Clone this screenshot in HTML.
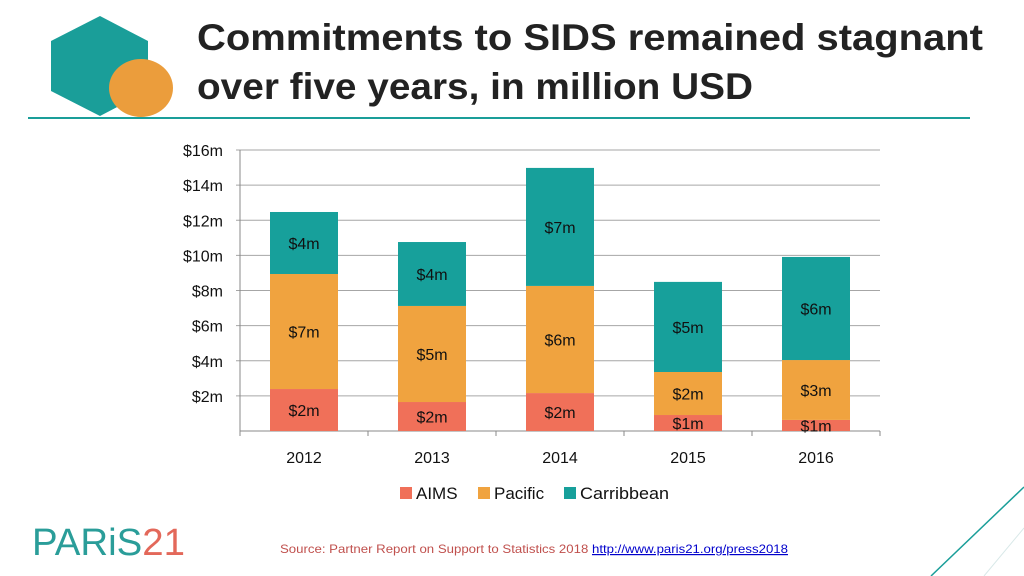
<!DOCTYPE html>
<html><head><meta charset="utf-8"><style>
body{margin:0;width:1024px;height:576px;background:#fff;overflow:hidden;font-family:"Liberation Sans",sans-serif;position:relative}
</style></head><body>
<svg width="1024" height="576" style="position:absolute;left:0;top:0">
<polygon points="100,16 148,41 148,91 100,116 51,91 51,41" fill="#1a9e99"/>
<ellipse cx="141" cy="88" rx="32" ry="29" fill="#eb9d3c"/>
<text x="197" y="50" font-size="37" font-weight="bold" fill="#222" textLength="786" lengthAdjust="spacingAndGlyphs">Commitments to SIDS remained stagnant</text>
<text x="197" y="99" font-size="37" font-weight="bold" fill="#222" textLength="556" lengthAdjust="spacingAndGlyphs">over five years, in million USD</text>
<line x1="28" y1="118" x2="970" y2="118" stroke="#1a9e99" stroke-width="2"/>
<g id="chart"></g>
<g font-size="17" fill="#111">
<rect x="400" y="487" width="12" height="12" fill="#f07059"/><text x="416" y="499">AIMS</text>
<rect x="478" y="487" width="12" height="12" fill="#f0a33f"/><text x="494" y="499">Pacific</text>
<rect x="564" y="487" width="12" height="12" fill="#17a09b"/><text x="580" y="499" textLength="89" lengthAdjust="spacingAndGlyphs">Carribbean</text>
</g>
<text x="32" y="555" font-size="38" fill="#2a9d99" textLength="153" lengthAdjust="spacingAndGlyphs">PARiS<tspan fill="#e3685a">21</tspan></text>
<text x="280" y="553" font-size="12" fill="#c0504d" textLength="508" lengthAdjust="spacingAndGlyphs">Source: Partner Report on Support to Statistics 2018 <tspan fill="#00c" text-decoration="underline">http://www.paris21.org/press2018</tspan></text>
<line x1="1024" y1="487" x2="931" y2="576" stroke="#1a9e99" stroke-width="1.5"/>
<line x1="1024" y1="528" x2="984" y2="576" stroke="#d8e8e8" stroke-width="1"/>
</svg>
<script>
const categories=["2012","2013","2014","2015","2016"];
const aims=[2.39,1.65,2.16,0.91,0.63];
const pacific=[6.55,5.47,6.1,2.45,3.41];
const carib=[3.53,3.64,6.72,5.13,5.87];
const yTicks=[0,2,4,6,8,10,12,14,16];
const NS="http://www.w3.org/2000/svg";
const g=document.getElementById('chart');
const x0=240,x1=880,y0=431,yTop=150,yMax=16;
const y=v=>y0-(v/yMax)*(y0-yTop);
const bw=(x1-x0)/categories.length;
function mk(t,a){const e=document.createElementNS(NS,t);for(const k in a)e.setAttribute(k,a[k]);g.appendChild(e);return e;}
yTicks.forEach(v=>{
 const l=mk('line',{x1:v===0?x0:x0-4,x2:x1,y1:y(v),y2:y(v),stroke:v===0?'#888':'#a6a6a6','stroke-width':1});
 
 
 if(v>0){const t=mk('text',{x:223,y:y(v)+6,'text-anchor':'end','font-size':16,fill:'#111'});t.textContent='$'+v+'m';
 
 }
});
mk('line',{x1:x0,x2:x0,y1:yTop,y2:y0,stroke:'#888'});
for(let i=0;i<=categories.length;i++){mk('line',{x1:x0+i*bw,x2:x0+i*bw,y1:y0,y2:y0+5,stroke:'#888'});}
const series=[[aims,'#f07059','aims'],[pacific,'#f0a33f','pacific'],[carib,'#17a09b','caribbean']];
categories.forEach((c,i)=>{
 const cx=x0+bw*(i+0.5);let base=0;
 series.forEach(([arr,col,nm])=>{
  const v=arr[i];
  const r=mk('rect',{x:cx-34,y:y(base+v),width:68,height:y(base)-y(base+v),fill:col});
  
  
  const t=mk('text',{x:cx,y:(y(base)+y(base+v))/2+6,'text-anchor':'middle','font-size':16,fill:'#111'});
  t.textContent='$'+Math.round(v)+'m';
  
  
  base+=v;
 });
 const t=mk('text',{x:cx,y:463,'text-anchor':'middle','font-size':16,fill:'#111'});t.textContent=c;
 
 
});
</script>
</body></html>
